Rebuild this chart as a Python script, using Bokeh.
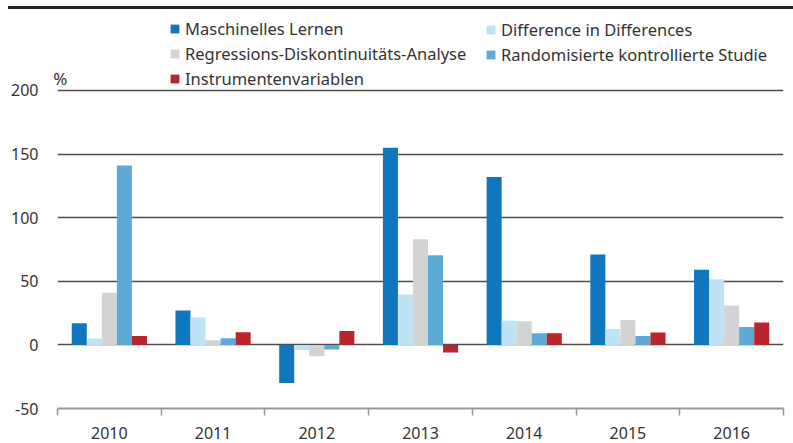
from bokeh.plotting import figure
from bokeh.models import (Range1d, FixedTicker, ColumnDataSource, Legend, LegendItem,
                          Div, LinearAxis)
from bokeh.transform import dodge
from bokeh.layouts import column
from bokeh.embed import file_html
from bokeh.resources import INLINE

years = ["2010", "2011", "2012", "2013", "2014", "2015", "2016"]
series_names = ["Maschinelles Lernen", "Difference in Differences",
                "Regressions-Diskontinuitäts-Analyse", "Randomisierte kontrollierte Studie",
                "Instrumentenvariablen"]
ml = [17, 27, -30, 155, 132, 71, 59]
did = [5, 21.5, -4, 39.5, 19, 12.5, 51.5]
rdd = [41, 3.7, -9, 83, 18.5, 19.5, 31]
rct = [141, 5.3, -3.7, 70.5, 9.2, 7, 14]
iv = [7, 10, 11, -6, 9.2, 9.7, 17.6]
y_ticks = [-50, 0, 50, 100, 150, 200]
unit_label = "%"

colors = ["#1077be", "#bde3f5", "#d2d3d2", "#5eaad5", "#b8252c"]
FONT = "Noto Sans"

xc = [i + 0.5 for i in range(len(years))]
src = ColumnDataSource(dict(xc=xc, ml=ml, did=did, rdd=rdd, rct=rct, iv=iv))

p = figure(width=777, height=433, output_backend="svg", toolbar_location=None,
           x_range=Range1d(0, len(years)), y_range=Range1d(-50, 262.8),
           min_border_left=49, min_border_right=2, min_border_top=0, min_border_bottom=35,
           margin=(0, 0, 0, 8))
p.outline_line_color = None
p.background_fill_color = "white"

bw = 0.145
offsets = [-2 * bw, -bw, 0, bw, 2 * bw]
renderers = []
for key, off, col in zip(["ml", "did", "rdd", "rct", "iv"], offsets, colors):
    r = p.vbar(x=dodge("xc", off, range=p.x_range), top=key, bottom=0, width=bw,
               source=src, fill_color=col, line_color=None)
    renderers.append(r)

# x axis
xa = p.xaxis[0]
xa.ticker = FixedTicker(ticks=xc, minor_ticks=list(range(len(years) + 1)))
xa.major_label_overrides = {x: y for x, y in zip(xc, years)}
xa.major_tick_line_color = None
xa.major_tick_out = 0
xa.minor_tick_in = 0
xa.minor_tick_out = 7
xa.minor_tick_line_color = "#999999"
xa.minor_tick_line_width = 1.5
xa.axis_line_color = "#999999"
xa.axis_line_width = 2
xa.major_label_text_font = FONT
xa.major_label_text_font_size = "16px"
xa.major_label_text_color = "#333333"
xa.major_label_standoff = 11

# inner left axis: carries only the unit label just above the top gridline
pct_pos = y_ticks[-1] + 9.5
ua = p.yaxis[0]
ua.ticker = FixedTicker(ticks=[pct_pos])
ua.major_label_overrides = {pct_pos: unit_label}
ua.axis_line_color = None
ua.major_tick_line_color = None
ua.minor_tick_line_color = None
ua.major_tick_out = 0
ua.major_tick_in = 0
ua.major_label_standoff = -10
ua.major_label_text_font = FONT
ua.major_label_text_font_size = "17px"
ua.major_label_text_color = "#333333"

# outer left axis: numeric tick labels
ya = LinearAxis(ticker=FixedTicker(ticks=y_ticks),
                major_label_overrides={t: str(t) for t in y_ticks})
ya.axis_line_color = None
ya.major_tick_line_color = None
ya.minor_tick_line_color = None
ya.major_tick_out = 0
ya.major_tick_in = 0
ya.major_label_standoff = 12
ya.major_label_text_font = FONT
ya.major_label_text_font_size = "16px"
ya.major_label_text_color = "#333333"
p.add_layout(ya, "left")

p.xgrid.grid_line_color = None
p.ygrid.ticker = FixedTicker(ticks=[t for t in y_ticks if t > y_ticks[0]])
p.ygrid.grid_line_color = "#4d4d4d"
p.ygrid.grid_line_width = 1.4

def make_legend(idx, loc):
    lg = Legend(items=[LegendItem(label=series_names[i], renderers=[renderers[i]]) for i in idx],
                location=loc, orientation="vertical")
    lg.glyph_width = 11
    lg.glyph_height = 11
    lg.label_height = 20
    lg.spacing = 2
    lg.padding = 0
    lg.margin = 0
    lg.label_standoff = 5
    lg.border_line_color = None
    lg.background_fill_alpha = 0
    lg.label_text_font = FONT
    lg.label_text_font_size = "16.5px"
    lg.label_text_color = "#333333"
    return lg

p.add_layout(make_legend([0, 2, 4], (112, 318)))
p.add_layout(make_legend([1, 3], (428, 342)))

top_line = Div(text="", width=785, height=4, margin=(6, 0, 0, 8),
               styles={"border-top": "3px solid #222222", "box-sizing": "border-box"})

layout = column(top_line, p, spacing=0)
open("out.html", "w").write(file_html(layout, INLINE))
